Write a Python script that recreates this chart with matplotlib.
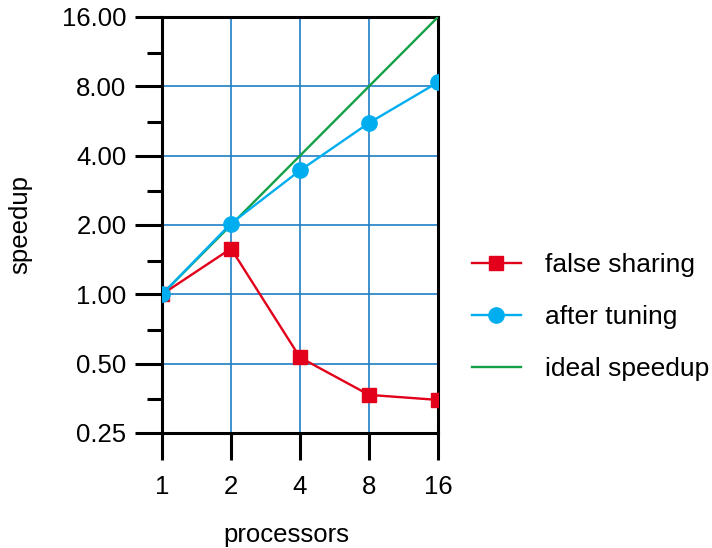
import numpy as np
import matplotlib
matplotlib.use("Agg")
import matplotlib.pyplot as plt
from matplotlib.ticker import FixedLocator, FormatStrFormatter, NullLocator, NullFormatter

plt.rcParams['font.family'] = ['Liberation Sans', 'DejaVu Sans']

####################### data #######################
processors = [1, 2, 4, 8, 16]
false_sharing = [1.0, 1.58, 0.532, 0.366, 0.348]
after_tuning = [1.0, 2.03, 3.45, 5.55, 8.33]
ideal_speedup = [1, 2, 4, 8, 16]
y_ticks = [0.25, 0.5, 1, 2, 4, 8, 16]

red = "#e2001a"
cyan = "#00aeef"
green = "#13a046"
gridblue = "#1f7ec6"
fs = 18.5

####################### figure #######################
fig = plt.figure(figsize=(7.12, 5.48), dpi=100)
ax = fig.add_axes([162/712, 1-433/548, 276/712, 416/548])

ax.set_xscale('log', base=2)
ax.set_yscale('log', base=2)
ax.set_xlim(1, 16)
ax.set_ylim(0.25, 16)

ax.plot(processors, false_sharing, color=red, lw=1.7, marker='s', ms=9.6,
        label='false sharing', zorder=4)
ax.plot(processors, after_tuning, color=cyan, lw=1.7, marker='o', ms=11,
        label='after tuning', zorder=4)
ax.plot(processors, ideal_speedup, color=green, lw=1.7, label='ideal speedup', zorder=3)

ax.xaxis.set_major_locator(FixedLocator(processors))
ax.xaxis.set_minor_locator(NullLocator())
ax.set_xticklabels([str(p) for p in processors])
ax.yaxis.set_major_locator(FixedLocator(y_ticks))
ax.yaxis.set_major_formatter(FormatStrFormatter('%.2f'))
# minor ticks a bit more than half an octave under each major
ax.yaxis.set_minor_locator(FixedLocator([t * 0.7 for t in y_ticks[1:]]))
ax.yaxis.set_minor_formatter(NullFormatter())

ax.grid(True, which='major', color=gridblue, lw=1.2)
ax.set_axisbelow(True)

ax.tick_params(axis='both', which='major', direction='out', length=19.5, width=2.2,
               labelsize=fs, colors='black')
ax.tick_params(axis='x', which='major', pad=11)
ax.tick_params(axis='y', which='major', pad=6)
ax.tick_params(axis='y', which='minor', direction='out', length=11, width=2.2)
for s in ax.spines.values():
    s.set_linewidth(2.2)
    s.set_color('black')

ax.set_xlabel('processors', fontsize=fs)
ax.set_ylabel('speedup', fontsize=fs)
ax.xaxis.label.set_va('center')
ax.yaxis.label.set_va('center')
ax.xaxis.set_label_coords(0.449, -0.245)
ax.yaxis.set_label_coords(-0.514, 0.5)

fig.legend(loc='center left', bbox_to_anchor=(472/712, 1-317/548), frameon=False,
           fontsize=19, handlelength=1.85, handletextpad=0.9, labelspacing=1.07,
           borderpad=0, borderaxespad=0)

fig.savefig("out.png", dpi=100)
